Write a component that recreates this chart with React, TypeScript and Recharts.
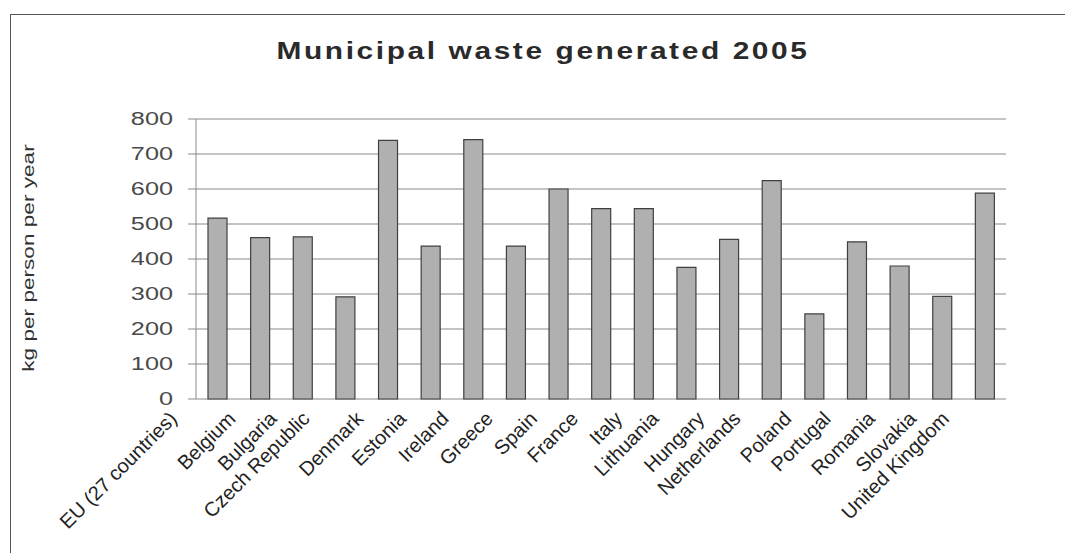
import React from 'react'
import { BarChart, Bar, XAxis, YAxis, CartesianGrid } from 'recharts'

const categories = [
  'EU (27 countries)', 'Belgium', 'Bulgaria', 'Czech Republic', 'Denmark', 'Estonia',
  'Ireland', 'Greece', 'Spain', 'France', 'Italy', 'Lithuania', 'Hungary',
  'Netherlands', 'Poland', 'Portugal', 'Romania', 'Slovakia', 'United Kingdom',
]
const wasteKg = [517, 461, 463, 292, 739, 437, 741, 437, 600, 544, 544, 376, 456, 624, 243, 449, 380, 293, 588]
const yTicks = [0, 100, 200, 300, 400, 500, 600, 700, 800]

const data = categories.map((name, i) => ({ name, value: wasteKg[i] }))
const edges = categories.map((_, i) => i).concat(categories.length)

const FONT = '"Liberation Sans", Arial, sans-serif'
const W = 1065
const H = 553

const YTick = ({ x, y, payload }: any) => (
  <text transform={`translate(${x},${y}) scale(1.33,1)`} textAnchor="end" dominantBaseline="central"
    fontFamily={FONT} fontSize={19} fill="#4a4a4a">
    {payload.value}
  </text>
)

// Excel-style slanted labels, long names sit a little further left
const CountryTick = ({ x, y, payload }: any) => {
  const label: string = payload.value
  const ax = x - 12 - 1.6 * label.length
  return (
    <text transform={`translate(${ax},${y + 21}) rotate(-45)`} textAnchor="end"
      fontFamily={FONT} fontSize={20} fill="#222">
      {label}
    </text>
  )
}

export default function App() {
  return (
    <div style={{ position: 'absolute', left: 0, top: 0, width: W, height: H, overflow: 'hidden', background: '#fff' }}>
      <div style={{ position: 'absolute', left: 10, top: 14, width: W + 40, height: H + 40, borderLeft: '1.5px solid #555', borderTop: '1.5px solid #555' }} />
      <BarChart width={W} height={H} data={data} margin={{ top: 119, right: 59, bottom: 4, left: 0 }}>
        <CartesianGrid horizontal vertical={false} stroke="#c4c4c4" strokeWidth={2} />
        <XAxis xAxisId="edges" type="number" domain={[0, categories.length]} ticks={edges} height={0}
          tick={() => <g />} tickSize={4} tickLine={{ stroke: '#999' }}
          axisLine={{ stroke: '#999', strokeDasharray: '2 1' }} />
        <XAxis xAxisId="cat" dataKey="name" interval={0} height={150} tickSize={0} tickMargin={0}
          axisLine={false} tickLine={false} tick={<CountryTick />} />
        <YAxis width={196} domain={[0, 800]} ticks={yTicks} interval={0} tickSize={8} tickMargin={15}
          axisLine={{ stroke: '#8a8a8a' }} tickLine={{ stroke: '#8a8a8a' }} tick={<YTick />} />
        <YAxis yAxisId="r" orientation="right" width={0} domain={[0, 800]} tick={false} tickLine={false}
          axisLine={{ stroke: '#999', strokeDasharray: '2 1' }} />
        <Bar xAxisId="cat" dataKey="value" barSize={19} fill="#b0b0b0" stroke="#404040" strokeWidth={1.2}
          isAnimationActive={false} />
      </BarChart>
      <svg width={W} height={H} style={{ position: 'absolute', left: 0, top: 0, pointerEvents: 'none' }}>
        <text transform="translate(543,58.5) scale(1.3,1)" textAnchor="middle" fontFamily={FONT}
          fontSize={23} fontWeight="bold" letterSpacing={2} fill="#2a2a2a">
          Municipal waste generated 2005
        </text>
        <text transform="translate(34,258) rotate(-90) scale(1.33,1)" textAnchor="middle" fontFamily={FONT}
          fontSize={17} fill="#333">
          kg per person per year
        </text>
      </svg>
    </div>
  )
}
